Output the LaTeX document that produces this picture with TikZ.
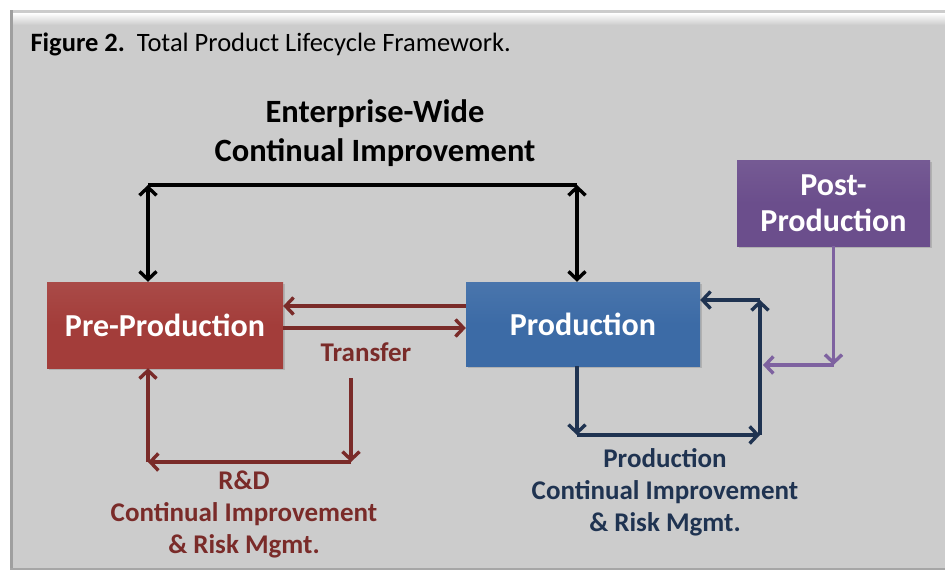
\documentclass[tikz,border=0pt]{standalone}
\usepackage{fontspec}
\setmainfont{Carlito}
\usetikzlibrary{arrows.meta,shadows}

\definecolor{panelgray}{HTML}{CCCCCC}
\definecolor{prered}{HTML}{A33D3A}
\definecolor{prodblue}{HTML}{3C6BA6}
\definecolor{postpurple}{HTML}{6B4E8C}
\definecolor{rdred}{HTML}{7A2B29}
\definecolor{navy}{HTML}{1F3351}
\definecolor{lilac}{HTML}{7E62A0}

\begin{document}
\begin{tikzpicture}[x=1pt,y=-1pt,
    phase/.style={inner sep=0pt, text=white, align=center,
        font=\fontsize{32}{36}\selectfont\bfseries,
        drop shadow={opacity=0.35,shadow xshift=2pt,shadow yshift=-2pt}},
    link/.style={line width=3.4pt, >={Straight Barb[length=8pt,width=17pt]}},
    note/.style={align=center, font=\fontsize{27}{32}\selectfont\bfseries}]

        \useasboundingbox (0,0) rectangle (945,573);
        \fill[panelgray] (10,10) rectangle (945,570);
        \shade[top color=white, bottom color=panelgray] (10,13) rectangle (945,25);
        \draw[gray!75, line width=3pt] (11.5,10) -- (11.5,570);
        \draw[gray!70, line width=2pt] (10,569) -- (945,569);

        \node[anchor=base west, font=\fontsize{26.5}{30}\selectfont] (title) at (27,51) {\textbf{Figure 2.}\ \ Total Product Lifecycle Framework.};

        \node[note, font=\fontsize{32.5}{39}\selectfont\bfseries] (ewnote) at (375,133) {Enterprise-Wide\\Continual Improvement};

        \node[phase, top color=prered!93!white, bottom color=prered, middle color=prered, minimum width=236pt, minimum height=86pt] (pre) at (165,325) {Pre-Production};
        \node[phase, top color=prodblue!93!white, bottom color=prodblue, middle color=prodblue, minimum width=234pt, minimum height=84pt] (prod) at (583,324) {Production};
        \node[phase, top color=postpurple!93!white, bottom color=postpurple, middle color=postpurple, minimum width=193pt, minimum height=86pt] (post) at (833.5,203) {Post-\\Production};

        % enterprise-wide loop
        \coordinate (ewL) at (148,185);
        \coordinate (ewR) at (577,185);
        \draw[link] (ewL) -- (ewR);
        \draw[link,<->] (ewL) -- (ewL |- pre.north);
        \draw[link,<->] (ewR) -- (ewR |- prod.north);

        % transfer
        \coordinate (tU) at (0,306);
        \coordinate (tD) at (0,328);
        \draw[link,->,rdred] (prod.west |- tU) -- (pre.east |- tU);
        \draw[link,->,rdred] (pre.east |- tD) -- (prod.west |- tD);
        \node[note, text=rdred] (transfer) at (366,352) {Transfer};

        % R&D loop
        \coordinate (rdA) at (351,378);
        \coordinate (rdB) at (351,462);
        \coordinate (rdC) at (148,462);
        \draw[link,->,rdred] (rdA) -- (rdB);
        \draw[link,->,rdred] (rdB) -- (rdC);
        \draw[link,->,rdred] (rdC) -- (rdC |- pre.south);
        \node[note, text=rdred] (rdnote) at (244,514) {R\&D\\Continual Improvement\\\& Risk Mgmt.};

        % production loop
        \coordinate (pcA) at (577,435);
        \coordinate (pcB) at (760,435);
        \coordinate (pcC) at (760,300);
        \draw[link,->,navy] (pcA |- prod.south) -- (pcA);
        \draw[link,->,navy] (pcA) -- (pcB);
        \draw[link,->,navy] (pcB) -- (pcC);
        \draw[link,->,navy] (pcC) -- (prod.east |- pcC);
        \node[note, text=navy] (pcnote) at (665,492) {Production\\Continual Improvement\\\& Risk Mgmt.};

        % post-production feedback
        \coordinate (ppA) at (834,365);
        \coordinate (ppB) at (763,365);
        \draw[link,->,lilac] (post.south) -- (post.south |- ppA);
        \draw[link,->,lilac] (post.south |- ppA) -- (ppB);

    \end{tikzpicture}
\end{document}
